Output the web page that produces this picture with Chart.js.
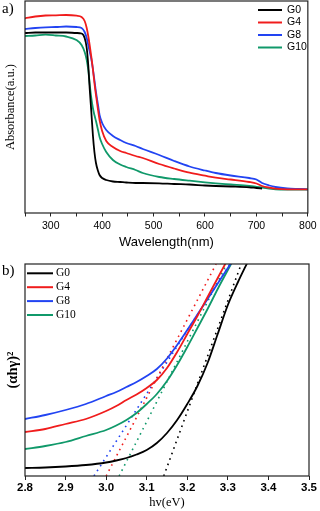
<!DOCTYPE html>
<html>
<head>
<meta charset="utf-8">
<script src="https://cdn.jsdelivr.net/npm/chart.js@4.4.0/dist/chart.umd.min.js"></script>
<style>
  body { margin: 0; background: #fff; width: 320px; height: 511px; overflow: hidden; position: relative; }
  .box { position: absolute; left: 0; width: 320px; }
  #boxA { top: 0; height: 255px; }
  #boxB { top: 255px; height: 256px; }
  .tag { position: absolute; left: 2px; font-family: "Liberation Serif"; font-size: 15px; line-height: 16px; color: #000; }
</style>
</head>
<body>
<div class="box" id="boxA"><canvas id="chartA"></canvas></div>
<div class="box" id="boxB"><canvas id="chartB"></canvas></div>
<div class="tag" style="top:0px">a)</div>
<div class="tag" style="top:262px">b)</div>
<script>
// sample names + colours
var samples = ["G0", "G4", "G8", "G10"];
var colors = ["#000000", "#f01c1c", "#2244f2", "#10996a"];

// a) absorbance spectra
var wavelength = [250, 270, 290, 310, 330, 350, 360, 366, 370, 373, 376, 379, 382, 385, 388, 392, 395, 400, 408, 421,
                  435, 447, 465, 479, 511, 540, 570, 600, 621, 650, 686, 700, 711, 725, 737, 760, 780, 800];
var absG0 = [1.80, 1.805, 1.805, 1.805, 1.805, 1.80, 1.795, 1.75, 1.65, 1.48, 1.23, 1.01, 0.78, 0.61, 0.50, 0.42, 0.38, 0.35, 0.33, 0.315,
             0.31, 0.305, 0.30, 0.30, 0.297, 0.29, 0.285, 0.275, 0.27, 0.265, 0.257, 0.25, 0.245, null, null, null, null, null];
var absG4 = [1.947, 1.965, 1.975, 1.977, 1.98, 1.973, 1.96, 1.92, 1.85, 1.77, 1.67, 1.56, 1.44, 1.30, 1.18, 1.03, 0.93, 0.82, 0.72, 0.66,
             0.62, 0.60, 0.57, 0.55, 0.49, 0.445, 0.403, 0.373, 0.353, 0.335, 0.31, 0.295, 0.27, 0.253, 0.243, 0.237, 0.237, 0.237];
var absG8 = [1.84, 1.85, 1.857, 1.86, 1.865, 1.86, 1.85, 1.81, 1.75, 1.68, 1.61, 1.54, 1.44, 1.33, 1.21, 1.08, 0.98, 0.90, 0.83, 0.77,
             0.73, 0.70, 0.67, 0.64, 0.58, 0.52, 0.465, 0.425, 0.40, 0.375, 0.35, 0.335, 0.30, 0.275, 0.26, 0.245, 0.24, 0.237];
var absG10 = [1.77, 1.775, 1.783, 1.775, 1.765, 1.73, 1.68, 1.61, 1.53, 1.43, 1.28, 1.15, 1.05, 0.98, 0.92, 0.83, 0.76, 0.69, 0.61, 0.53,
              0.485, 0.46, 0.43, 0.40, 0.36, 0.34, 0.323, 0.307, 0.297, 0.285, 0.27, 0.262, 0.255, 0.245, 0.237, 0.235, 0.235, 0.235];
var labelsA = [300, 400, 500, 600, 700, 800];

// b) Tauc plot
var energy = [2.80, 2.85, 2.90, 2.95, 3.00, 3.025, 3.05, 3.075, 3.10, 3.125, 3.15, 3.175, 3.20, 3.225, 3.25, 3.275, 3.30, 3.325, 3.35];
var taucG0 = [0.08, 0.085, 0.095, 0.11, 0.135, 0.155, 0.18, 0.215, 0.26, 0.33, 0.43, 0.56, 0.72, 0.90, 1.13, 1.42, 1.71, 1.94, 2.15];
var taucG4 = [0.44, 0.47, 0.52, 0.57, 0.65, 0.70, 0.76, 0.815, 0.88, 0.96, 1.08, 1.24, 1.42, 1.60, 1.79, 1.98, 2.17, null, null];
var taucG8 = [0.57, 0.61, 0.66, 0.72, 0.80, 0.84, 0.89, 0.94, 1.00, 1.07, 1.175, 1.31, 1.46, 1.615, 1.77, 1.925, 2.08, 2.23, null];
var taucG10 = [0.27, 0.30, 0.34, 0.40, 0.46, 0.505, 0.56, 0.63, 0.72, 0.82, 0.95, 1.11, 1.29, 1.48, 1.67, 1.87, 2.06, 2.25, null];
// dotted fits: x-intercept (band gap) and x where the fit leaves the top of the plot
var gapStart = [3.142, 3.000, 2.970, 3.032];
var gapTop = [3.333, 3.271, 3.305, 3.297];
var yTopB = 2.12;
var labelsB = [2.8, 2.9, 3.0, 3.1, 3.2, 3.3, 3.4, 3.5];

function pts(xs, ys) {
    var out = [];
    for (var i = 0; i < xs.length; i++) out.push({x: xs[i], y: ys[i]});
    return out;
}

// legend drawn inside the plot
var insideLegend = {
    id: 'insideLegend',
    afterDraw: function (chart, args, o) {
        var ctx = chart.ctx;
        ctx.save();
        ctx.font = o.font;
        ctx.textBaseline = 'middle';
        ctx.fillStyle = '#000';
        var row = 0;
        chart.data.datasets.forEach(function (ds) {
            if (ds.fit) return;
            var y = o.top + row * o.gap;
            ctx.strokeStyle = ds.borderColor;
            ctx.lineWidth = 2;
            ctx.beginPath();
            ctx.moveTo(o.left, y);
            ctx.lineTo(o.left + o.len, y);
            ctx.stroke();
            ctx.fillText(ds.label, o.left + o.len + o.space, y);
            row++;
        });
        ctx.restore();
    }
};

// box round the plot
var frame = {
    id: 'frame',
    afterDatasetsDraw: function (chart) {
        var a = chart.chartArea, ctx = chart.ctx;
        ctx.save();
        ctx.strokeStyle = '#222';
        ctx.lineWidth = 1.2;
        ctx.strokeRect(a.left, a.top, a.right - a.left, a.bottom - a.top);
        ctx.restore();
    }
};

var absSets = [absG0, absG4, absG8, absG10];
new Chart("chartA", {
    type: "line",
    data: {
        datasets: absSets.map(function (d, i) {
            return {label: samples[i], data: pts(wavelength, d), borderColor: colors[i], borderWidth: 1.8,
                    pointRadius: 0, cubicInterpolationMode: 'monotone'};
        })
    },
    options: {
        responsive: true, maintainAspectRatio: false, animation: false,
        layout: {padding: {left: 0, right: 11, top: 1, bottom: 0}},
        plugins: {
            legend: {display: false}, tooltip: {enabled: false},
            insideLegend: {font: '10.5px "Liberation Sans"', left: 258, len: 24, space: 5, top: 10, gap: 12.5}
        },
        scales: {
            x: {
                type: 'linear', min: 250, max: 800,
                afterFit: function (s) { s.height = 42; },
                border: {display: false},
                grid: {drawOnChartArea: false, tickLength: 3.5, color: '#222'},
                ticks: {
                    stepSize: 50, padding: 3.4, color: '#000', maxRotation: 0, autoSkip: false,
                    font: {family: 'Liberation Sans', size: 10.5},
                    callback: function (v) { return labelsA.indexOf(v) >= 0 ? String(v) : ''; }
                },
                title: {display: true, text: 'Wavelength(nm)', color: '#000',
                        font: {family: 'Liberation Sans', size: 13}, padding: {top: 0, bottom: 5.2}}
            },
            y: {
                min: 0, max: 2.12,
                afterFit: function (s) { s.width = 25; },
                border: {display: false}, grid: {display: false}, ticks: {display: false},
                title: {display: true, text: 'Absorbance(a.u.)', color: '#000',
                        font: {family: 'Liberation Serif', size: 12.5}, padding: {top: 3.5, bottom: 0}}
            }
        }
    },
    plugins: [insideLegend, frame]
});

var taucSets = [taucG0, taucG4, taucG8, taucG10];
var setsB = taucSets.map(function (d, i) {
    return {label: samples[i], data: pts(energy, d), borderColor: colors[i], borderWidth: 1.8,
            pointRadius: 0, cubicInterpolationMode: 'monotone'};
});
gapStart.forEach(function (g, i) {
    setsB.push({label: samples[i] + ' fit', fit: true, data: [{x: g, y: 0}, {x: gapTop[i], y: yTopB}],
                borderColor: colors[i], borderWidth: 1.6, borderDash: [1.6, 4.2], pointRadius: 0});
});

new Chart("chartB", {
    type: "line",
    data: {datasets: setsB},
    options: {
        responsive: true, maintainAspectRatio: false, animation: false,
        layout: {padding: {left: 0, right: 11, top: 9, bottom: 0}},
        plugins: {
            legend: {display: false}, tooltip: {enabled: false},
            insideLegend: {font: '11.5px "Liberation Serif"', left: 27, len: 26, space: 3, top: 18.3, gap: 13.9}
        },
        scales: {
            x: {
                type: 'linear', min: 2.8, max: 3.5,
                afterFit: function (s) { s.height = 35; },
                border: {display: false},
                grid: {drawOnChartArea: false, tickLength: 4, color: '#222'},
                ticks: {
                    stepSize: 0.1, padding: 0.6, color: '#000', maxRotation: 0, autoSkip: false,
                    font: {family: 'Liberation Sans', size: 11.5, weight: 'bold'},
                    callback: function (v) { return labelsB.indexOf(Math.round(v * 10) / 10) >= 0 ? v.toFixed(1) : ''; }
                },
                title: {display: true, text: 'hv(eV)', color: '#000',
                        font: {family: 'Liberation Serif', size: 12.5}, padding: {top: 0, bottom: 0.5}}
            },
            y: {
                min: 0, max: yTopB,
                afterFit: function (s) { s.width = 25; },
                border: {display: false}, grid: {display: false}, ticks: {display: false},
                title: {display: true, text: '(αhγ)²', color: '#000',
                        font: {family: 'Liberation Serif', size: 14.5, weight: 'bold'}, padding: {top: 5, bottom: 0}}
            }
        }
    },
    plugins: [insideLegend, frame]
});
</script>
</body>
</html>
